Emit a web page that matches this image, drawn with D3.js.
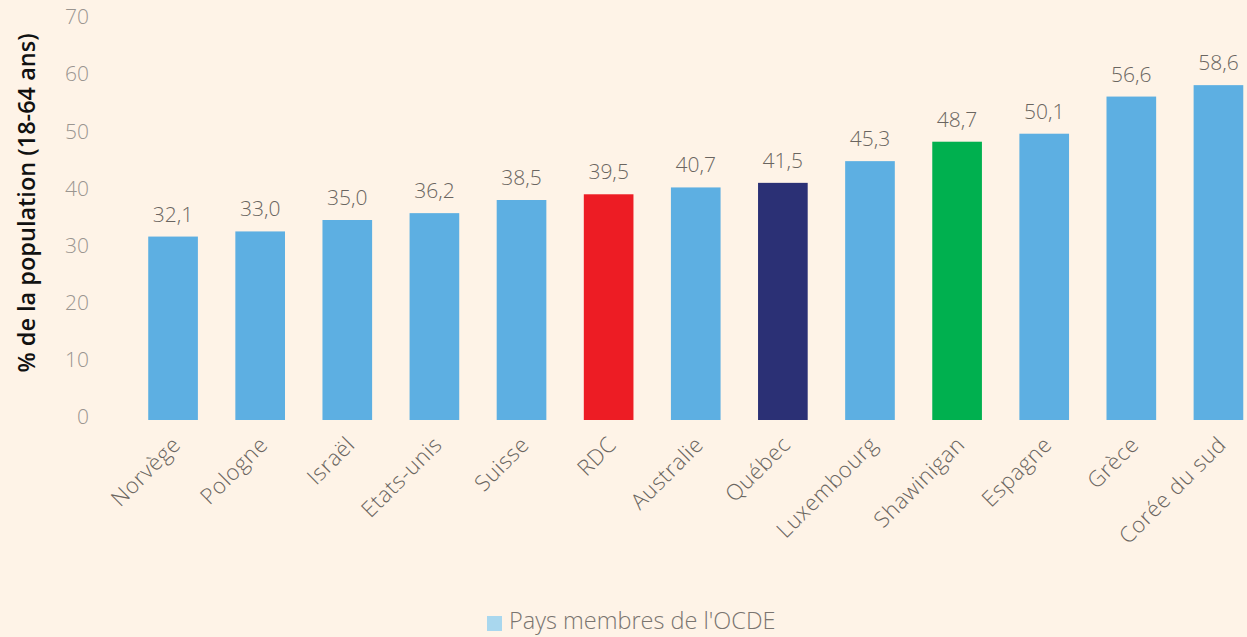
<!DOCTYPE html>
<html>
<head>
<meta charset="utf-8">
<script src="https://cdn.jsdelivr.net/npm/d3@7"></script>
<style>
  body { margin: 0; background: #fef3e7; }
  svg { display: block; font-family: "Open Sans", sans-serif; }
</style>
</head>
<body>
<svg width="1247" height="637"></svg>
<script>
const categories = ["Norvège", "Pologne", "Israël", "Etats-unis", "Suisse", "RDC", "Australie",
  "Québec", "Luxembourg", "Shawinigan", "Espagne", "Grèce", "Corée du sud"];
const values = [32.1, 33.0, 35.0, 36.2, 38.5, 39.5, 40.7, 41.5, 45.3, 48.7, 50.1, 56.6, 58.6];
const yTicks = [0, 10, 20, 30, 40, 50, 60, 70];
const highlight = { "RDC": "#ed1c24", "Québec": "#2b3075", "Shawinigan": "#00b04f" };

const svg = d3.select("svg");
const fmt = v => d3.format(".1f")(v).replace(".", ",");

const x = d3.scaleBand()
  .domain(categories)
  .range([129.5, 1262])
  .paddingInner(0.43)
  .paddingOuter(0.215);

const y = d3.scaleLinear().domain([0, 70]).range([420, 20]);

// y tick labels (no axis line)
svg.append("g")
  .selectAll("text")
  .data(yTicks)
  .join("text")
  .attr("x", 89)
  .attr("y", d => y(d) - 3)
  .attr("dy", "0.35em")
  .attr("text-anchor", "end")
  .attr("font-size", 21)
  .attr("font-weight", 300)
  .attr("fill", "#9a9590")
  .text(d => d);

svg.append("text")
  .attr("transform", "translate(35,203) rotate(-90)")
  .attr("text-anchor", "middle")
  .attr("font-size", 23.5)
  .attr("font-weight", 600)
  .attr("fill", "#111")
  .text("% de la population (18-64 ans)");

svg.append("g")
  .selectAll("rect")
  .data(categories)
  .join("rect")
  .attr("x", d => x(d))
  .attr("width", x.bandwidth())
  .attr("y", (d, i) => y(values[i]))
  .attr("height", (d, i) => y(0) - y(values[i]))
  .attr("fill", d => highlight[d] || "#5dafe2");

svg.append("g")
  .selectAll("text")
  .data(categories)
  .join("text")
  .attr("x", d => x(d) + x.bandwidth() / 2)
  .attr("y", (d, i) => y(values[i]) - 15)
  .attr("text-anchor", "middle")
  .attr("font-size", 21)
  .attr("font-weight", 300)
  .attr("fill", "#6a6560")
  .text((d, i) => fmt(values[i]));

// category labels rotated
svg.append("g")
  .selectAll("text")
  .data(categories)
  .join("text")
  .attr("transform", d => `translate(${x(d) + x.bandwidth() / 2 + 9},${446}) rotate(-45)`)
  .attr("text-anchor", "end")
  .attr("font-size", 22)
  .attr("letter-spacing", 0.6)
  .attr("font-weight", 300)
  .attr("fill", "#6a6560")
  .text(d => d);

// legend
const legend = svg.append("g").attr("transform", "translate(487,616)");
legend.append("rect").attr("width", 15).attr("height", 15).attr("fill", "#a9d7ee");
legend.append("text")
  .attr("x", 22).attr("y", 13)
  .attr("font-size", 23.5)
  .attr("font-weight", 300)
  .attr("fill", "#7a7570")
  .text("Pays membres de l'OCDE");
</script>
</body>
</html>
